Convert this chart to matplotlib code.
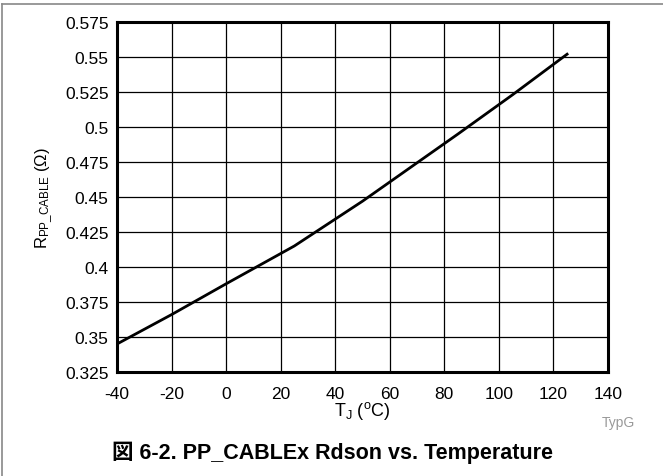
import matplotlib
matplotlib.use("Agg")
import matplotlib.pyplot as plt
from matplotlib.lines import Line2D

plt.rcParams["font.family"] = ["Liberation Sans", "Noto Sans CJK JP", "DejaVu Sans"]
plt.rcParams["mathtext.fontset"] = "custom"
plt.rcParams["mathtext.rm"] = "Liberation Sans"
plt.rcParams["mathtext.it"] = "Liberation Sans"

# data
temp_c = [-40, -20, 0, 25, 50, 85, 105, 125]
rdson_ohm = [0.345, 0.366, 0.388, 0.415, 0.447, 0.495, 0.523, 0.552]

x_ticks = [-40, -20, 0, 20, 40, 60, 80, 100, 120, 140]
y_ticks = [0.325, 0.35, 0.375, 0.4, 0.425, 0.45, 0.475, 0.5, 0.525, 0.55, 0.575]
y_tick_labels = ["0.325", "0.35", "0.375", "0.4", "0.425", "0.45",
                 "0.475", "0.5", "0.525", "0.55", "0.575"]

fig = plt.figure(figsize=(6.63, 4.77), dpi=100)
ax = fig.add_axes([117 / 663, 1 - 373 / 477, 491 / 663, 350 / 477])

ax.plot(temp_c, rdson_ohm, color="black", lw=2.0, zorder=3)

ax.set_xlim(-40, 140)
ax.set_ylim(0.325, 0.575)
ax.set_xticks(x_ticks)
ax.set_xticklabels([str(t) for t in x_ticks])
ax.set_yticks(y_ticks)
ax.set_yticklabels(y_tick_labels)
ax.grid(True, color="black", lw=0.9)
ax.tick_params(length=0, labelsize=12.5)
ax.tick_params(axis="x", pad=10)
ax.tick_params(axis="y", pad=6)
for sp in ax.spines.values():
    sp.set_linewidth(2.2)

ax.set_xlabel(r"T$_{\mathrm{J}}$ ($^{\mathrm{o}}$C)", fontsize=13, labelpad=-1)
ax.set_ylabel(r"R$_{\mathrm{PP\_CABLE}}$ ($\Omega$)", fontsize=12, labelpad=7)

fig.text(618 / 663, 1 - 423 / 477, "TypG", fontsize=10, color="#999999",
         ha="center", va="center")
fig.text(332 / 663, 1 - 453 / 477, "図 6-2. PP_CABLEx Rdson vs. Temperature",
         fontsize=15.5, fontweight="bold", ha="center", va="center")

# page frame lines (top and left)
fig.add_artist(Line2D([2 / 663, 2 / 663], [0, 1 - 5 / 477], color="#888888",
                      lw=1.2, transform=fig.transFigure))
fig.add_artist(Line2D([2 / 663, 1], [1 - 5 / 477, 1 - 5 / 477], color="#888888",
                      lw=1.2, transform=fig.transFigure))

fig.savefig("out.png", dpi=100)
